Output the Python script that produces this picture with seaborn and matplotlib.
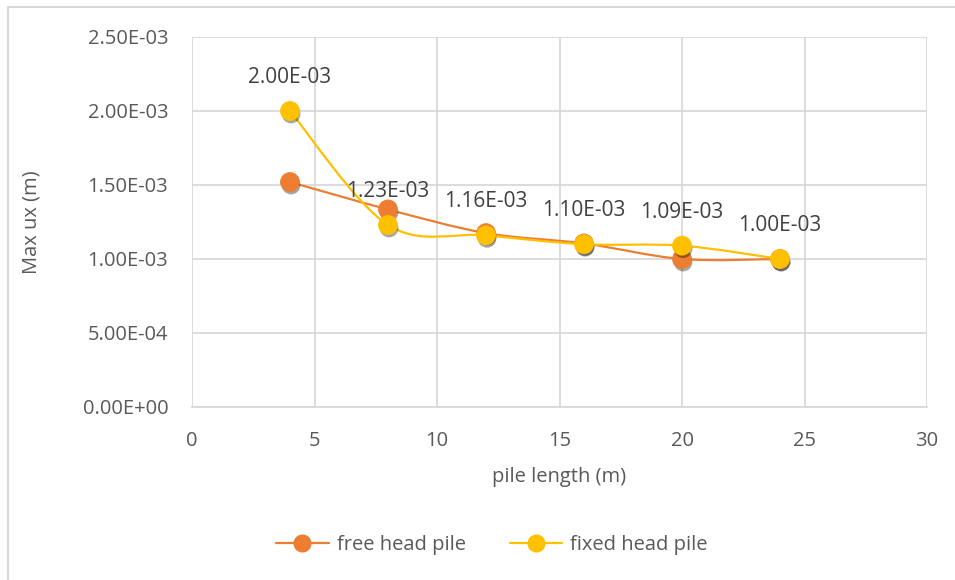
import numpy as np
import pandas as pd
import matplotlib
matplotlib.use("Agg")
import matplotlib.pyplot as plt
import matplotlib.patheffects as pe
from matplotlib.path import Path
from matplotlib.patches import PathPatch, Rectangle
from matplotlib.lines import Line2D
import seaborn as sns

# ---- data ----
pile_length = [4, 8, 12, 16, 20, 24]
free_head = [1.52e-3, 1.335e-3, 1.175e-3, 1.105e-3, 1.00e-3, 1.00e-3]
fixed_head = [2.00e-3, 1.23e-3, 1.16e-3, 1.10e-3, 1.09e-3, 1.00e-3]
series_names = ["free head pile", "fixed head pile"]
series_colors = ["#ED7D31", "#FFC000"]
y_ticks = [0, 5e-4, 1e-3, 1.5e-3, 2e-3, 2.5e-3]
x_ticks = [0, 5, 10, 15, 20, 25, 30]

sns.set_theme(style="white")
plt.rcParams["font.family"] = ["Open Sans", "DejaVu Sans"]

FS = 14.5
fig = plt.figure(figsize=(9.55, 5.8), dpi=100)
ax = fig.add_axes([192/955, 1-407/580, (927-192)/955, (407-37)/580])

# outer chart frame
fig.patches.append(Rectangle((8/955, -0.1), 1.2, 1 - 7/580 + 0.1,
                             transform=fig.transFigure, fill=False,
                             edgecolor="#D9D9D9", linewidth=1.5, zorder=0))

def smooth_path(xs, ys, k=1/6):
    xs = np.asarray(xs, float); ys = np.asarray(ys, float)
    n = len(xs)
    verts = [(xs[0], ys[0])]
    codes = [Path.MOVETO]
    for i in range(n - 1):
        im1 = max(i - 1, 0); ip2 = min(i + 2, n - 1)
        c1 = (xs[i] + (xs[i+1] - xs[im1]) * k, ys[i] + (ys[i+1] - ys[im1]) * k)
        c2 = (xs[i+1] - (xs[ip2] - xs[i]) * k, ys[i+1] - (ys[ip2] - ys[i]) * k)
        verts += [c1, c2, (xs[i+1], ys[i+1])]
        codes += [Path.CURVE4] * 3
    return Path(verts, codes)

df = pd.DataFrame({
    "pile length (m)": pile_length * 2,
    "Max ux (m)": free_head + fixed_head,
    "series": [series_names[0]] * len(pile_length) + [series_names[1]] * len(pile_length),
})

for name, col, vals, z in zip(series_names, series_colors, [free_head, fixed_head], [3, 5]):
    ax.add_patch(PathPatch(smooth_path(pile_length, vals), fill=False,
                           edgecolor=col, linewidth=1.6, zorder=z))
    sub = df[df["series"] == name]
    sc = sns.scatterplot(data=sub, x="pile length (m)", y="Max ux (m)", ax=ax,
                         color=col, s=180, edgecolor=col, linewidth=0.8,
                         zorder=z + 1, legend=False)
    sc.collections[-1].set_path_effects([
        pe.SimplePatchShadow(offset=(0.8, -2.2), shadow_rgbFace="#000000", alpha=0.35),
        pe.Normal()])

for x, y in zip(pile_length, fixed_head):
    ax.annotate(f"{y:.2E}", (x, y), xytext=(0, 24), textcoords="offset points",
                ha="center", va="center", fontsize=FS + 0.5, color="#404040", zorder=10)

ax.set_xlim(0, 30)
ax.set_ylim(0, 2.5e-3)
ax.set_xticks(x_ticks)
ax.set_yticks(y_ticks)
ax.set_xticklabels([str(t) for t in x_ticks])
ax.set_yticklabels([f"{t:.2E}" for t in y_ticks])
ax.tick_params(axis="both", labelsize=FS, labelcolor="#595959", length=0)
ax.tick_params(axis="x", pad=17)
ax.tick_params(axis="y", pad=17)
ax.grid(True, color="#D9D9D9", linewidth=1.3)
ax.set_axisbelow(True)
for s in ax.spines.values():
    s.set_visible(False)
ax.spines["bottom"].set_visible(True)
ax.spines["bottom"].set_color("#D9D9D9")
ax.spines["bottom"].set_linewidth(1.3)

ax.set_xlabel("pile length (m)", fontsize=FS, color="#595959", va="center")
ax.set_ylabel("Max ux (m)", fontsize=FS, color="#595959", va="center")
ax.xaxis.set_label_coords(559/955, 1-477/580, transform=fig.transFigure)
ax.yaxis.set_label_coords(32/955, 1-222/580, transform=fig.transFigure)

handles = [Line2D([0], [0], color=c, lw=1.6, marker="o", markersize=12,
                  markerfacecolor=c, markeredgecolor=c) for c in series_colors]
fig.legend(handles, series_names, loc="center", bbox_to_anchor=(492/955, 1-545/580),
           ncol=2, frameon=False, fontsize=FS, labelcolor="#595959",
           handlelength=2.6, columnspacing=2.2, handletextpad=0.4)

fig.savefig("out.png", dpi=100)
